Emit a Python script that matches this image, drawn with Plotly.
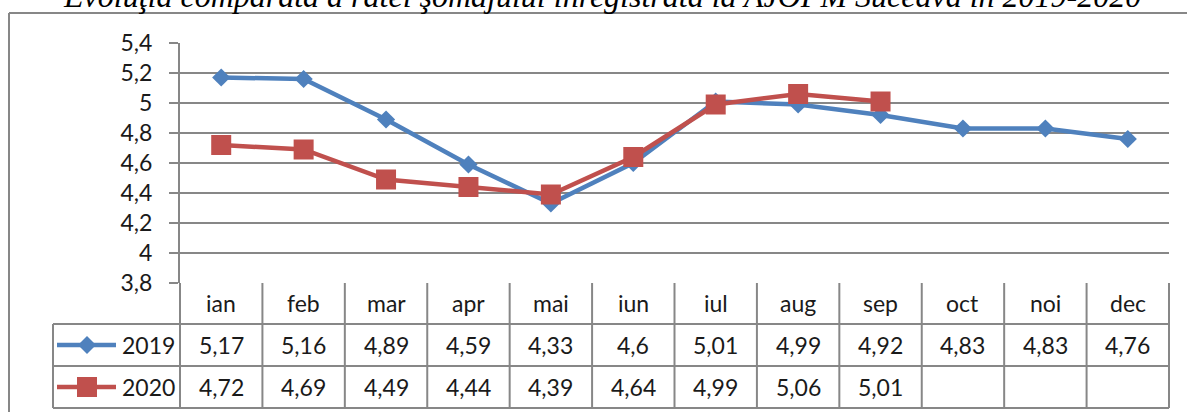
import plotly.graph_objects as go

# ---- data ----
months = ["ian", "feb", "mar", "apr", "mai", "iun", "iul", "aug", "sep", "oct", "noi", "dec"]
rate_2019 = [5.17, 5.16, 4.89, 4.59, 4.33, 4.6, 5.01, 4.99, 4.92, 4.83, 4.83, 4.76]
rate_2020 = [4.72, 4.69, 4.49, 4.44, 4.39, 4.64, 4.99, 5.06, 5.01, None, None, None]
series_names = ["2019", "2020"]
y_tick_vals = [3.8, 4.0, 4.2, 4.4, 4.6, 4.8, 5.0, 5.2, 5.4]
y_tick_text = ["3,8", "4", "4,2", "4,4", "4,6", "4,8", "5", "5,2", "5,4"]
title_text = "Evoluţia comparată a ratei şomajului înregistrată la AJOFM Suceava în 2019-2020"

# ---- styling / layout ----
W, H = 1187, 412
ML, MR, MT, MB = 180, 18, 43, 129
PW, PH = W - ML - MR, H - MT - MB
BLUE = "#4F81BD"
RED = "#C0504D"
GRID = "#878787"
FONT = "Lato"
FS = 23
TXT = "#1a1a1a"

def px_x(px):  # pixel -> paper x
    return (px - ML) / PW

def px_y(py):  # pixel -> paper y
    return (H - MB - py) / PH

fig = go.Figure()
fig.add_trace(go.Scatter(
    x=list(range(len(months))), y=rate_2019, name=series_names[0], mode="lines+markers",
    line=dict(color=BLUE, width=4.5), marker=dict(symbol="diamond", size=14, color=BLUE),
    cliponaxis=False))
fig.add_trace(go.Scatter(
    x=list(range(len(months))), y=rate_2020, name=series_names[1], mode="lines+markers",
    line=dict(color=RED, width=4.5), marker=dict(symbol="square", size=20, color=RED),
    cliponaxis=False, connectgaps=False))

n = len(months)
shapes = []
annotations = []
line_style = dict(color=GRID, width=2)

# table geometry (pixels)
header_h, row_h = 41, 42
legend_left_px = 53
y_axis_px = H - MB
row_tops = [y_axis_px, y_axis_px + header_h, y_axis_px + header_h + row_h,
            y_axis_px + header_h + 2 * row_h]

for i in range(n + 1):
    shapes.append(dict(type="line", xref="paper", yref="paper", x0=i / n, x1=i / n,
                       y0=px_y(row_tops[0]), y1=px_y(row_tops[3]), line=line_style))
shapes.append(dict(type="line", xref="paper", yref="paper", x0=px_x(legend_left_px), x1=px_x(legend_left_px),
                   y0=px_y(row_tops[1]), y1=px_y(row_tops[3]), line=line_style))
for k in (1, 2, 3):
    shapes.append(dict(type="line", xref="paper", yref="paper", x0=px_x(legend_left_px), x1=1,
                       y0=px_y(row_tops[k]), y1=px_y(row_tops[k]), line=line_style))

# outer chart border (top and left)
shapes.append(dict(type="line", xref="paper", yref="paper", x0=px_x(9), x1=px_x(W + 5),
                   y0=px_y(13), y1=px_y(13), line=line_style))
shapes.append(dict(type="line", xref="paper", yref="paper", x0=px_x(9), x1=px_x(9),
                   y0=px_y(13), y1=px_y(H + 5), line=line_style))

for i, m in enumerate(months):
    annotations.append(dict(text=m, xref="paper", yref="paper", x=(i + 0.5) / n,
                            y=px_y((row_tops[0] + row_tops[1]) / 2 - 1), showarrow=False,
                            xanchor="center", yanchor="middle", font=dict(family=FONT, size=FS, color=TXT)))

def fmt(v):
    return "" if v is None else str(v).replace(".", ",")

for r, (vals, name, color, sym) in enumerate([(rate_2019, series_names[0], BLUE, "diamond"),
                                               (rate_2020, series_names[1], RED, "square")]):
    cy = (row_tops[r + 1] + row_tops[r + 2]) / 2
    for i, v in enumerate(vals):
        if v is None:
            continue
        annotations.append(dict(text=fmt(v), xref="paper", yref="paper", x=(i + 0.5) / n,
                                y=px_y(cy), showarrow=False, xanchor="center", yanchor="middle",
                                font=dict(family=FONT, size=FS, color=TXT)))
    annotations.append(dict(text=name, xref="paper", yref="paper", x=px_x(177), y=px_y(cy),
                            showarrow=False, xanchor="right", yanchor="middle",
                            font=dict(family=FONT, size=FS, color=TXT)))
    shapes.append(dict(type="line", xref="paper", yref="paper", x0=px_x(57), x1=px_x(116),
                       y0=px_y(cy), y1=px_y(cy), line=dict(color=color, width=4.5)))
    if sym == "diamond":
        path = "M -9 0 L 0 9 L 9 0 L 0 -9 Z"
    else:
        path = "M -10 -10 L 10 -10 L 10 10 L -10 10 Z"
    shapes.append(dict(type="path", xref="paper", yref="paper", xsizemode="pixel", ysizemode="pixel",
                       xanchor=px_x(87), yanchor=px_y(cy), path=path,
                       fillcolor=color, line=dict(color=color, width=0)))

# title (cropped at the top of the picture, as in the source)
annotations.append(dict(text=title_text, xref="paper", yref="paper", x=px_x(602), y=px_y(-4),
                        showarrow=False, xanchor="center", yanchor="middle",
                        font=dict(family="Liberation Serif", size=32, color="#000000", style="italic")))

fig.update_layout(
    width=W, height=H, autosize=False,
    margin=dict(l=ML, r=MR, t=MT, b=MB, pad=0),
    paper_bgcolor="white", plot_bgcolor="white",
    showlegend=False,
    shapes=shapes, annotations=annotations,
    xaxis=dict(range=[-0.5, n - 0.5], showticklabels=False, showgrid=False, zeroline=False,
               showline=False, ticks="", fixedrange=True),
    yaxis=dict(range=[3.8, 5.4], tickvals=y_tick_vals, ticktext=y_tick_text,
               showgrid=True, gridcolor=GRID, gridwidth=2, zeroline=False,
               showline=True, linecolor=GRID, linewidth=2,
               ticks="outside", ticklen=9, tickwidth=2, tickcolor=GRID,
               ticklabelstandoff=12,
               tickfont=dict(family=FONT, size=FS, color=TXT), fixedrange=True),
)

fig.write_html("out.html", config={"displayModeBar": False},
               post_script="document.body.style.margin='0';")
